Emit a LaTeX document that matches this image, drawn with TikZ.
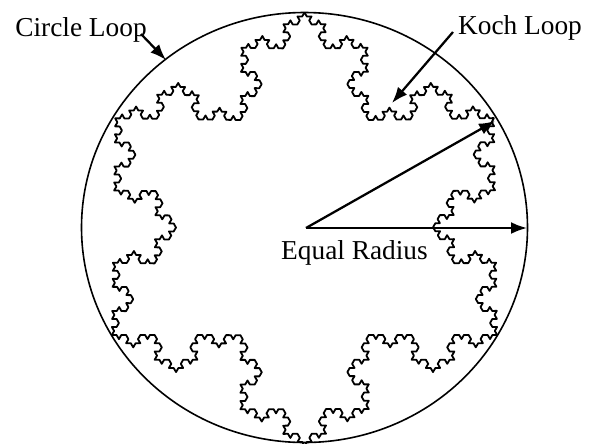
\documentclass[tikz,border=0pt]{standalone}
\usepackage{fontspec}
\setmainfont{Liberation Serif}
\usetikzlibrary{decorations.fractals,arrows.meta,shapes.geometric}
\begin{document}
\begin{tikzpicture}[x=0.75pt,y=-0.75pt,
  lbl/.style={font=\fontsize{20.5}{24}\selectfont, inner sep=0pt, anchor=base},
  koch/.style={line width=1.35pt, decoration=Koch snowflake, line join=round},
  loopline/.style={line width=1.2pt},
  ptr/.style={line width=1.7pt, -{Latex[length=12pt,width=9pt]}}]
\path[use as bounding box] (0,0) rectangle (593,443);
\coordinate (O) at (304.5,227.5);
\node[draw, ellipse, loopline, minimum width=334.5pt, minimum height=322.5pt, inner sep=0pt, outer sep=0pt] (circ) at (O) {};
\coordinate (K1) at (304.5,12.5);
\coordinate (K2) at (497.2,335);
\coordinate (K3) at (111.8,335);
\draw[koch] decorate{decorate{decorate{decorate{(K1) -- (K2) -- (K3) -- (K1)}}}};
\node[lbl] (cl) at (81,36) {Circle Loop};
\node[lbl] (kl) at (520,34) {Koch Loop};
\node[lbl] (er) at (354.5,259) {Equal Radius};
\coordinate (clS) at (141,34);
\coordinate (clE) at (166,60);
\coordinate (klS) at (453,32);
\coordinate (klE) at (392,103);
\coordinate (rS) at (306,228);
\coordinate (r1) at (495,121);
\coordinate (r2) at (527,228);
\draw[ptr] (clS) -- (clE);
\draw[ptr] (klS) -- (klE);
\draw[ptr] (rS) -- (r1);
\draw[ptr] (rS) -- (r2);
\end{tikzpicture}
\end{document}
